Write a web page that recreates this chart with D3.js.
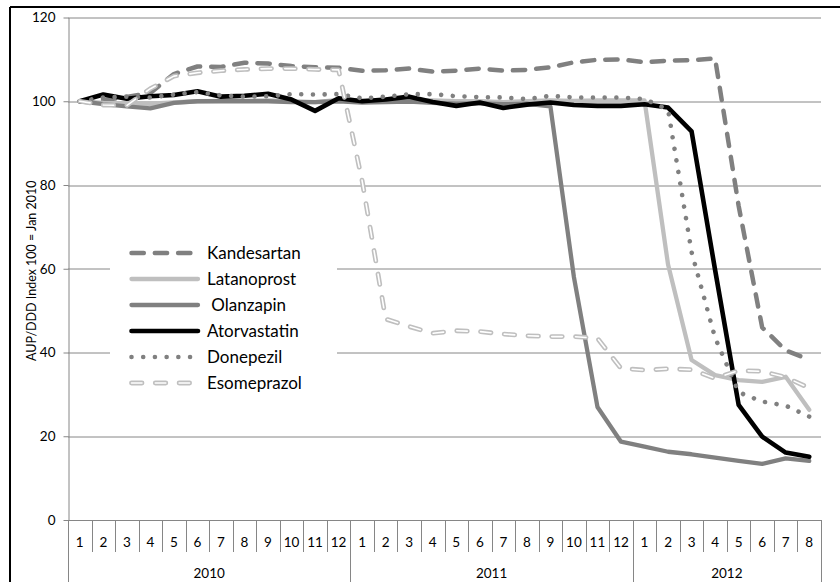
<!DOCTYPE html>
<html>
<head>
<meta charset="utf-8">
<script src="https://cdn.jsdelivr.net/npm/d3@7"></script>
<style>
  body { margin: 0; background: #fff; }
  svg { display: block; font-family: Lato, "Open Sans", sans-serif; }
</style>
</head>
<body>
<svg id="chart" width="840" height="582"></svg>
<script>
// data (index, Jan 2010 = 100)
const monthLabels = ["1","2","3","4","5","6","7","8","9","10","11","12",
  "1","2","3","4","5","6","7","8","9","10","11","12",
  "1","2","3","4","5","6","7","8"];
const years = ["2010", "2011", "2012"];
const yearLengths = [12, 12, 8];
const yTicks = [0, 20, 40, 60, 80, 100, 120];
const seriesNames = ["Kandesartan", "Latanoprost", "Olanzapin", "Atorvastatin", "Donepezil", "Esomeprazol"];

const kandesartan = [100, 100.3, 101, 102, 106.5, 108.3, 108.2, 109.2, 109, 108.4, 108.1, 108,
  107.3, 107.4, 107.8, 107.1, 107.3, 107.8, 107.3, 107.5, 108.1, 109.3, 109.9, 110,
  109.3, 109.7, 109.8, 110.2, 75, 46, 40.5, 38.3];
const latanoprost = [100, 99.6, 99.5, 99.4, 99.7, 100, 100.1, 100.1, 100.2, 100, 99.8, 100.3,
  100.2, 100.1, 100.3, 100.2, 100, 100, 99.8, 100, 100.2, 100.1, 100.2, 100.2,
  100.2, 61, 38.2, 34.6, 33.4, 33, 34.2, 26.3];
const olanzapin = [100, 99.3, 98.8, 98.3, 99.6, 100, 100, 100, 100, 99.8, 99.8, 100,
  99.7, 99.8, 99.9, 99.6, 99.4, 99.5, 99.3, 99.4, 98.8, 58, 27, 18.7,
  17.5, 16.3, 15.7, 14.9, 14.1, 13.4, 14.7, 14.1];
const atorvastatin = [100, 101.6, 100.6, 101.2, 101.5, 102.4, 101.1, 101.3, 101.8, 100.4, 97.7, 100.7,
  100, 100.4, 101.1, 99.8, 98.9, 99.7, 98.4, 99.2, 99.7, 99.1, 98.9, 98.9,
  99.3, 98.5, 92.8, 59.7, 27.5, 19.9, 16.1, 15.1];
const donepezil = [100, 100.9, 101.1, 100.9, 101.6, 102.2, 101.4, 101.1, 101.2, 101.7, 101.6, 101.7,
  100.7, 101.1, 101.7, 101.7, 101.2, 101, 100.9, 100.5, 101.3, 100.9, 100.9, 100.9,
  100.5, 98, 64, 43.5, 30.5, 28.3, 27.3, 24.7];
const esomeprazol = [100, 99.1, 99, 103, 106, 106.8, 107.3, 107.6, 107.8, 107.8, 107.6, 107.5,
  81, 48, 46.2, 44.6, 45.2, 45, 44.4, 44, 43.8, 43.8, 43.4, 36.2,
  35.8, 36.1, 35.9, 33.8, 35.7, 35.5, 34.1, 31.5];

// line styles per series
const styles = [
  { color: "#808080", width: 4.5, dash: "12.3,11" },
  { color: "#bfbfbf", width: 4.3, dash: null },
  { color: "#808080", width: 4.3, dash: null },
  { color: "#000000", width: 4.6, dash: null },
  { color: "#808080", width: 4.6, dash: "0.01,11.7" },
  { color: "#bfbfbf", width: 4.8, dash: "10.5,13.3", hollow: true },
];
const seriesValues = [kandesartan, latanoprost, olanzapin, atorvastatin, donepezil, esomeprazol];
const series = seriesNames.map((name, i) => ({ name, values: seriesValues[i], ...styles[i] }));

const gridColor = "#868686";

// set svg, plot size, margins
const svg = d3.select("#chart");
const margin = { top: 17.5, right: 19, bottom: 62, left: 68 };
const width = +svg.attr("width") - margin.left - margin.right;
const height = +svg.attr("height") - margin.top - margin.bottom;

// outer frame (top and left edges visible)
svg.append("line").attr("x1", 10).attr("x2", 840).attr("y1", 7).attr("y2", 7)
  .attr("stroke", "#000").attr("stroke-width", 2);
svg.append("line").attr("x1", 10).attr("x2", 10).attr("y1", 7).attr("y2", 582)
  .attr("stroke", "#000").attr("stroke-width", 2);

const chart = svg.append("g").attr("transform", `translate(${margin.left},${margin.top})`);

// scales
const x = d3.scaleBand().domain(d3.range(monthLabels.length)).range([0, width]).padding(0);
const y = d3.scaleLinear().domain([0, 120]).range([height, 0]);

// gridlines
chart.append("g")
  .selectAll("line")
  .data(yTicks.filter((t) => t > 0))
  .join("line")
  .attr("x1", 0)
  .attr("x2", width)
  .attr("y1", (d) => Math.round(y(d)) + 0.5)
  .attr("y2", (d) => Math.round(y(d)) + 0.5)
  .attr("stroke", gridColor)
  .attr("stroke-width", 1);

// y axis
const yAxis = chart.append("g")
  .attr("transform", "translate(0.5,0)")
  .call(d3.axisLeft(y).tickValues(yTicks).tickSize(5).tickSizeOuter(0).tickPadding(8));
yAxis.select(".domain").attr("stroke", gridColor);
yAxis.selectAll(".tick line").attr("stroke", gridColor);
yAxis.selectAll(".tick text").attr("font-size", 13.5).attr("fill", "#000")
  .attr("font-family", "Lato, 'Open Sans', sans-serif");

svg.append("text")
  .attr("transform", `translate(33,${margin.top + y(60) + 2}) rotate(-90)`)
  .attr("text-anchor", "middle")
  .attr("dominant-baseline", "middle")
  .attr("font-size", 12.5)
  .text("AUP/DDD Index 100 = Jan 2010");

// x axis: month labels, separators, year labels
const xAxisGroup = chart.append("g").attr("transform", `translate(0,${height})`);
xAxisGroup.append("line")
  .attr("x1", -4).attr("x2", width)
  .attr("y1", 0.5).attr("y2", 0.5)
  .attr("stroke", gridColor);

const yearStarts = d3.cumsum([0, ...yearLengths]);
const boundaries = d3.range(monthLabels.length + 1);
xAxisGroup.selectAll(".sep")
  .data(boundaries)
  .join("line")
  .attr("class", "sep")
  .attr("x1", (k) => Math.round(k < monthLabels.length ? x(k) : width) + 0.5)
  .attr("x2", (k) => Math.round(k < monthLabels.length ? x(k) : width) + 0.5)
  .attr("y1", 0)
  .attr("y2", (k) => (yearStarts.includes(k) ? 70 : 32))
  .attr("stroke", gridColor);

xAxisGroup.selectAll(".month")
  .data(monthLabels)
  .join("text")
  .attr("class", "month")
  .attr("x", (d, i) => x(i) + x.bandwidth() / 2)
  .attr("y", 26.5)
  .attr("text-anchor", "middle")
  .attr("font-size", 13.5)
  .text((d) => d);

xAxisGroup.selectAll(".year")
  .data(years)
  .join("text")
  .attr("class", "year")
  .attr("x", (d, i) => {
    const a = x(yearStarts[i]);
    const b = yearStarts[i + 1] < monthLabels.length ? x(yearStarts[i + 1]) : width;
    return (a + b) / 2;
  })
  .attr("y", 58)
  .attr("text-anchor", "middle")
  .attr("font-size", 13.5)
  .text((d) => d);

// legend background hides gridlines behind it
const legend = svg.append("g");
legend.append("rect")
  .attr("x", 110).attr("y", 232)
  .attr("width", 227).attr("height", 168)
  .attr("fill", "#fff");

// series lines
const line = d3.line()
  .x((d, i) => x(i) + x.bandwidth() / 2)
  .y((d) => y(d));

const drawStroke = (g, s, pathD) => {
  g.append("path")
    .attr("d", pathD)
    .attr("fill", "none")
    .attr("stroke", s.color)
    .attr("stroke-width", s.width)
    .attr("stroke-linecap", "round")
    .attr("stroke-linejoin", "round")
    .attr("stroke-dasharray", s.dash);
  if (s.hollow) {
    g.append("path")
      .attr("d", pathD)
      .attr("fill", "none")
      .attr("stroke", "#fff")
      .attr("stroke-width", 1.6)
      .attr("stroke-linecap", "round")
      .attr("stroke-linejoin", "round")
      .attr("stroke-dasharray", s.dash);
  }
};

const linesGroup = chart.append("g");
series.forEach((s) => {
  drawStroke(linesGroup.append("g"), s, line(s.values));
});

// legend entries
const legendRows = [253, 279, 305, 331, 357, 383];
series.forEach((s, i) => {
  const row = legend.append("g").attr("transform", `translate(0,${legendRows[i]})`);
  const x1 = s.dash ? 131.5 : 131.5;
  const x2 = s.name === "Donepezil" ? 190.5 : (s.dash ? 193 : 198);
  drawStroke(row, s, `M${x1},0L${x2},0`);
  row.append("text")
    .attr("x", 207)
    .attr("y", 0)
    .attr("dy", "0.36em")
    .attr("font-size", 17)
    .text(s.name === "Olanzapin" ? "\u00a0" + s.name : s.name);
});
</script>
</body>
</html>
